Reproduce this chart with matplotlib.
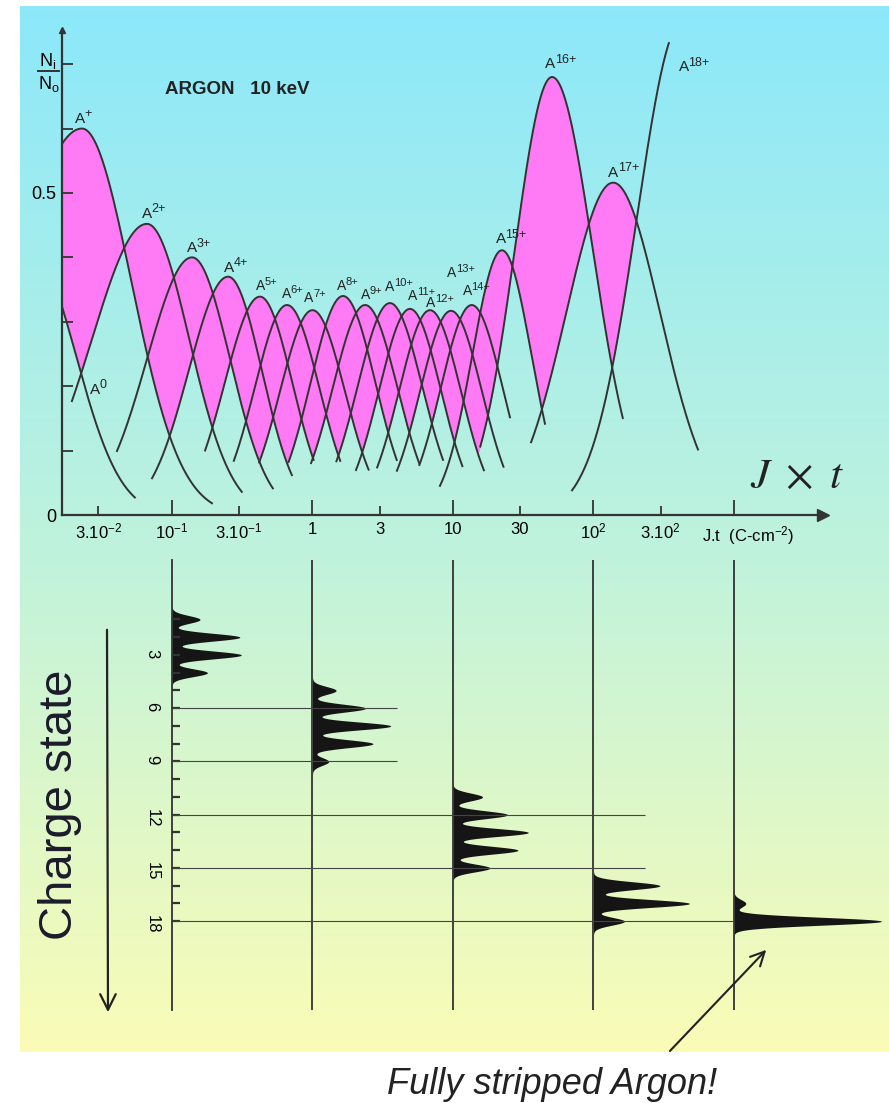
import numpy as np
import matplotlib
matplotlib.use('Agg')
import matplotlib.pyplot as plt
from matplotlib.colors import LinearSegmentedColormap
from matplotlib.ticker import NullLocator

plt.rcParams['font.family'] = ['Liberation Sans', 'DejaVu Sans']
plt.rcParams['mathtext.fontset'] = 'custom'
plt.rcParams['mathtext.rm'] = 'Liberation Sans'
plt.rcParams['mathtext.it'] = 'Liberation Sans:italic'
plt.rcParams['mathtext.bf'] = 'Liberation Sans:bold'

W, H = 889, 1103

# Charge state fractions Ni/No vs J.t for argon at 10 keV
charges = ['0', '+'] + ['%d+' % q for q in range(2, 19)]
peak_jt = [0.0100, 0.0229, 0.0664, 0.139, 0.251, 0.423, 0.659, 1.00, 1.65, 2.37,
           3.56, 4.94, 6.86, 9.68, 13.6, 22.3, 50.7, 138.0, 427.0]
peak_frac = [0.41, 0.60, 0.452, 0.40, 0.37, 0.339, 0.326, 0.318, 0.340, 0.326,
             0.329, 0.320, 0.318, 0.317, 0.326, 0.411, 0.680, 0.516, 0.765]
# widths of the left / right flanks, in decades of J.t
width_left = [0.316, 0.50, 0.39, 0.32, 0.28, 0.25, 0.23, 0.23, 0.23, 0.23,
              0.23, 0.22, 0.22, 0.22, 0.22, 0.21, 0.265, 0.335, 0.32]
width_right = [0.316, 0.35, 0.30, 0.27, 0.24, 0.23, 0.23, 0.23, 0.23, 0.23,
               0.23, 0.22, 0.22, 0.22, 0.22, 0.21, 0.29, 0.335, 0.32]
# J.t range over which each curve is drawn
draw_from = [0.0165, 0.0165, 0.0194, 0.0406, 0.0721, 0.172, 0.275, 0.417, 0.676, 0.977,
             1.48, 2.04, 2.88, 3.98, 5.75, 8.07, 15.6, 35.9, 70.3]
draw_to = [0.0546, 0.193, 0.315, 0.524, 0.714, 1.02, 1.58, 2.51, 3.98, 5.75,
           8.51, 11.7, 16.6, 22.9, 25.5, 45.2, 162.0, 555.0, 344.0]
# which neighbours bound the pink zone under each curve (left, right)
pink_below = [None, (1, 1), (1, 2), (1, 2), (1, 2)] + [(2, 2)] * 10 + [(2, 1), (1, 1), (1, 1), None]
label_at = ['start'] + ['peak'] * 17 + ['end']
label_shift = [(28, -87), (-7, 6), (-5, 6), (-5, 5), (-4, 5), (-4, 7), (-5, 7), (-8, 8),
               (-6, 6), (-4, 6), (-5, 12), (-2, 9), (-4, 3), (-4, 34), (-9, 10), (-6, 7),
               (-7, 9), (-5, 6), (10, -28)]
label_size = [11, 11, 11, 11, 11] + [10] * 10 + [11, 11, 11, 11]

x_major = [0.1, 1, 10, 100, 1000]
x_major_labels = ['10$^{\\mathregular{-1}}$', '1', '10', '10$^{\\mathregular{2}}$', '']
x_minor = [0.03, 0.3, 3, 30, 300]
x_minor_labels = ['3.10$^{\\mathregular{-2}}$', '3.10$^{\\mathregular{-1}}$', '3', '30',
                  '3.10$^{\\mathregular{2}}$']
y_ticks = [0, 0.1, 0.2, 0.3, 0.4, 0.5, 0.6, 0.7]
y_labels = ['0', '', '', '', '', '0.5', '', '']

# charge state spectra recorded at five values of J.t
spec_jt = [0.1, 1, 10, 100, 1000]
spec_q = [[1, 2, 3, 4], [5, 6, 7, 8, 9], [11, 12, 13, 14, 15], [16, 17, 18], [17, 18]]
spec_int = [[19, 46, 47, 24], [16, 36, 53, 41, 11], [20, 37, 51, 44, 25], [45, 65, 21], [8, 100]]
guide_q = [6, 9, 12, 15, 18]
guide_to = [4.0, 4.0, 233.0, 233.0, 1000.0]

x_lo, x_hi = 0.0165, 4300.0
ink = '#333333'
pink = '#ff7af5'


def fx(px):
    return px / W


def fy(py):
    return 1 - py / H


def bell(lx, i):
    c = np.log10(peak_jt[i])
    s = np.where(lx < c, width_left[i], width_right[i])
    return peak_frac[i] * np.exp(-0.5 * ((lx - c) / s) ** 2)


fig = plt.figure(figsize=(W / 100, H / 100), dpi=100)

# gradient backdrop
bg = fig.add_axes([fx(20), fy(1052), fx(889) - fx(20), fy(6) - fy(1052)], zorder=-10)
grad = LinearSegmentedColormap.from_list('bg', ['#8ce8fa', '#bdf2de', '#fafcb6'])
bg.imshow(np.linspace(0, 1, 256)[:, None], aspect='auto', cmap=grad, extent=[0, 1, 0, 1])
bg.axis('off')

# ---- upper panel: fractions ----
ax = fig.add_axes([fx(62), fy(515), fx(823) - fx(62), fy(30) - fy(515)])
ax.set_facecolor('none')
ax.set_xscale('log')
ax.set_xlim(x_lo, x_hi)
ax.set_ylim(0, 0.753)

lx = np.linspace(np.log10(x_lo), np.log10(x_hi), 4000)
xg = 10 ** lx
curves = [bell(lx, i) for i in range(len(charges))]

for i, nb in enumerate(pink_below):
    if nb is None:
        continue
    lower = np.zeros_like(lx)
    if i - nb[0] >= 0:
        lower = np.maximum(lower, curves[i - nb[0]])
    if i + nb[1] < len(curves):
        lower = np.maximum(lower, curves[i + nb[1]])
    inside = (xg >= draw_from[i]) & (xg <= draw_to[i])
    ax.fill_between(xg, lower, curves[i], where=inside & (curves[i] > lower),
                    interpolate=True, color=pink, lw=0)

for i in range(len(charges)):
    m = (xg >= draw_from[i]) & (xg <= draw_to[i])
    ax.plot(xg[m], curves[i][m], color=ink, lw=1.4)
    if label_at[i] == 'start':
        xy = (xg[m][0], curves[i][m][0])
    elif label_at[i] == 'end':
        xy = (xg[m][-1], curves[i][m][-1])
    else:
        xy = (peak_jt[i], peak_frac[i])
    dx, dy = label_shift[i]
    fs = label_size[i]
    ax.annotate('A', xy=xy, xytext=(dx, dy), textcoords='offset pixels',
                ha='left', va='baseline', fontsize=fs, color='#222222')
    ax.annotate(charges[i], xy=xy, xytext=(dx + 0.87 * fs, dy + 0.5 * fs),
                textcoords='offset pixels', ha='left', va='baseline',
                fontsize=fs - 2, color='#222222')

for side in ['top', 'right']:
    ax.spines[side].set_visible(False)
for side in ['left', 'bottom']:
    ax.spines[side].set_linewidth(1.6)
    ax.spines[side].set_color(ink)
ax.plot(1, 0, '>', ms=9, color=ink, transform=ax.transAxes, clip_on=False)
ax.plot(0, 1, '^', ms=5, color=ink, transform=ax.transAxes, clip_on=False)

ax.set_xticks(x_major)
ax.set_xticklabels(x_major_labels)
ax.set_xticks(x_minor, minor=True)
ax.set_xticklabels(x_minor_labels, minor=True)
ax.tick_params(axis='x', which='major', direction='in', length=10.5, width=1.3,
               labelsize=12, pad=5, color=ink)
ax.tick_params(axis='x', which='minor', direction='in', length=6.5, width=1.3,
               labelsize=12, pad=5, color=ink)
ax.set_yticks(y_ticks)
ax.set_yticklabels(y_labels)
ax.tick_params(axis='y', direction='in', length=8, width=1.3, labelsize=13, pad=4, color=ink)
ax.annotate('J.t  (C-cm$^{\\mathregular{-2}}$)', xy=(1000, 0), xycoords=('data', 'axes fraction'),
            xytext=(-32, -9), textcoords='offset pixels', ha='left', va='top', fontsize=12)

fig.text(fx(165), fy(90), 'ARGON   10 keV', fontsize=13.5, fontweight='bold', ha='left', va='center',
         color='#222222')
fig.text(fx(48), fy(61), 'N$_{\\mathregular{i}}$', fontsize=13, ha='center', va='center')
fig.add_artist(plt.Line2D([fx(38), fx(59)], [fy(71), fy(71)], color=ink, lw=1.4))
fig.text(fx(49), fy(84), 'N$_{\\mathregular{o}}$', fontsize=13, ha='center', va='center')
fig.text(fx(797), fy(477), r'$J\ \times\ t$', fontsize=31, math_fontfamily='stix',
         ha='center', va='center', color='#222222')

# ---- lower panel: spectra ----
ax2 = fig.add_axes([fx(62), fy(1010), fx(823) - fx(62), fy(560) - fy(1010)])
ax2.set_facecolor('none')
ax2.set_xscale('log')
ax2.set_xlim(x_lo, x_hi)
ax2.set_ylim(23.0, -2.35)
ax2.xaxis.set_major_locator(NullLocator())
ax2.xaxis.set_minor_locator(NullLocator())
for side in ['top', 'right', 'bottom']:
    ax2.spines[side].set_visible(False)
ax2.spines['left'].set_position(('data', spec_jt[0]))
ax2.spines['left'].set_linewidth(1.3)
ax2.spines['left'].set_color(ink)
ax2.set_yticks(range(1, 19))
ax2.set_yticklabels([str(q) if q % 3 == 0 else '' for q in range(1, 19)])
ax2.tick_params(axis='y', direction='in', length=6, width=1.6, labelsize=12,
                labelrotation=-90, pad=9, color=ink)
for v in spec_jt[1:]:
    ax2.axvline(v, color=ink, lw=1.3)
ax2.hlines(guide_q, spec_jt[0], guide_to, color='#444444', lw=0.8)

qg = np.linspace(-2, 23, 3000)
for xl, qs, ints in zip(spec_jt, spec_q, spec_int):
    prof = np.zeros_like(qg)
    for q, a in zip(qs, ints):
        prof += a * np.exp(-((qg - q) / 0.31) ** 2)
    ax2.fill_betweenx(qg, xl, xl * 10 ** (prof * 0.0105), color='#151515', lw=0, clip_on=False)

fig.text(fx(60), fy(805), 'Charge state', rotation=90, fontsize=34, ha='center', va='center',
         color='#1b1b2b')
ax2.annotate('', xy=(fx(108), fy(1015)), xycoords='figure fraction',
             xytext=(fx(107), fy(627)), textcoords='figure fraction',
             arrowprops=dict(arrowstyle='->', lw=1.6, color='#222222', mutation_scale=28))
fig.text(fx(552), fy(1085), 'Fully stripped Argon!', style='italic', fontsize=26,
         ha='center', va='center', color='#222222')
ax2.annotate('', xy=(1750, 19.5), xycoords='data',
             xytext=(fx(668), fy(1053)), textcoords='figure fraction',
             arrowprops=dict(arrowstyle='->', lw=1.5, color='#222222', mutation_scale=25))

fig.savefig('out.png', dpi=100)
